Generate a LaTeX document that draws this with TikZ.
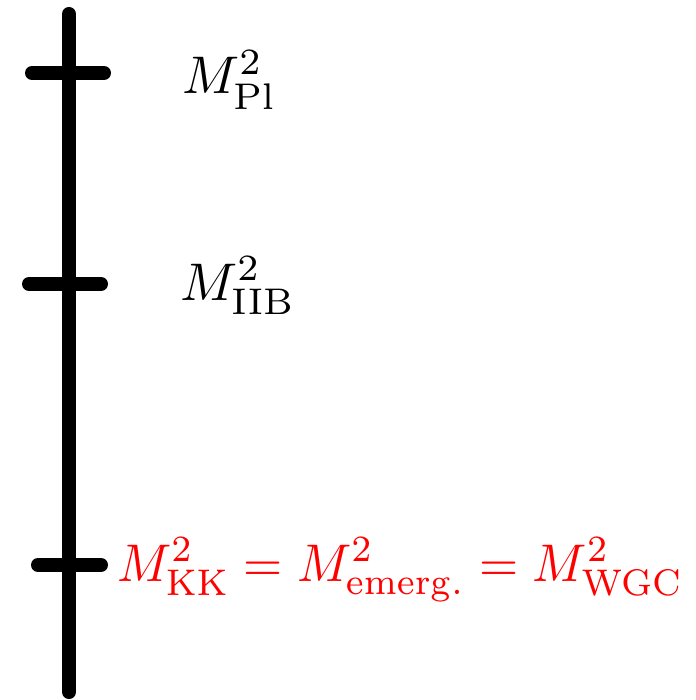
\documentclass[tikz,border=0pt]{standalone}
\usepackage{amsmath}
\begin{document}
\begin{tikzpicture}[x=1pt,y=-1pt,
  bar/.style={line width=14pt,line cap=round},
  lab/.style={anchor=base west,inner sep=0pt,scale=5.3,font=\fontsize{10}{12}\selectfont}]
\useasboundingbox (0,0) rectangle (695,700);
\coordinate (top) at (69,14);
\coordinate (bot) at (69,692);
\draw[bar] (top) -- (bot);
\coordinate (t1l) at (32,73); \coordinate (t1r) at (104,73);
\coordinate (t2l) at (29,284); \coordinate (t2r) at (101,284);
\coordinate (t3l) at (38,565); \coordinate (t3r) at (101,565);
\draw[bar] (t1l) -- (t1r);
\draw[bar] (t2l) -- (t2r);
\draw[bar] (t3l) -- (t3r);
\node[lab] (pl) at (181,94) {$M_{\mathrm{Pl}}^2$};
\node[lab] (iib) at (179,300) {$M_{\mathrm{IIB}}^2$};
\node[lab,xscale=0.95,text=red] (kk) at (116,581) {$M_{\mathrm{KK}}^2=M_{\mathrm{emerg.}}^2=M_{\mathrm{WGC}}^2$};
\end{tikzpicture}
\end{document}
